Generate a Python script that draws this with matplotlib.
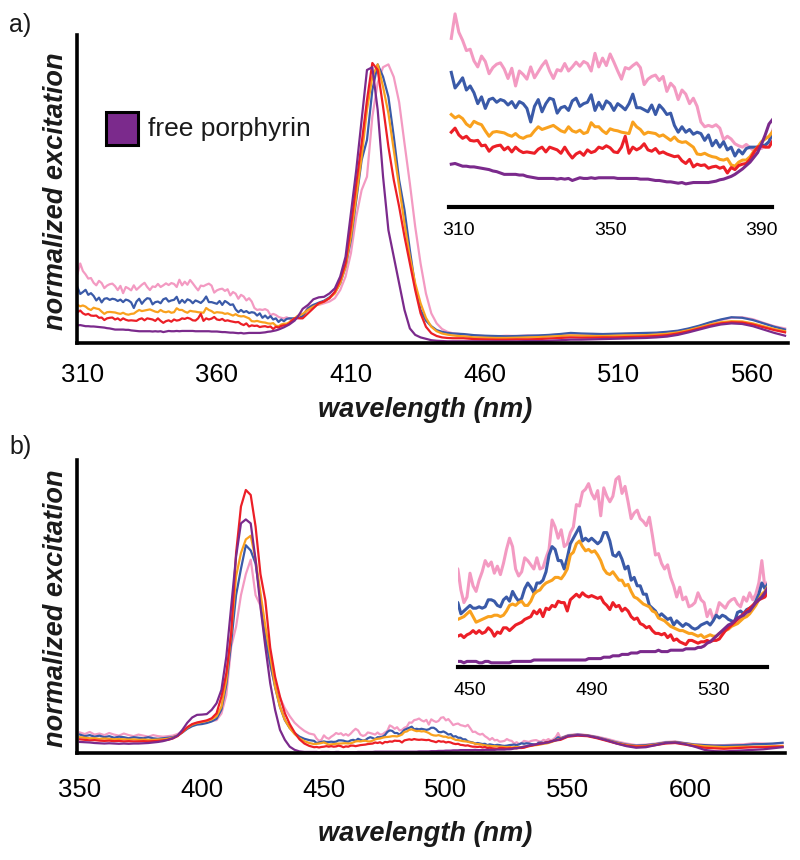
import numpy as np
import matplotlib
matplotlib.use("Agg")
import matplotlib.pyplot as plt
from matplotlib.patches import Rectangle

plt.rcParams['font.family'] = ['Liberation Sans', 'DejaVu Sans']

# ---------------- panel a data (normalized excitation, per-mille of Soret max) ----------------
a_wl = np.concatenate([np.arange(308, 393), np.arange(394, 451, 2), np.arange(452, 573, 4)])

a_pink = [248, 284, 257, 245, 230, 232, 215, 206, 222, 214,
          196, 205, 210, 212, 203, 189, 204, 178, 200, 195,
          188, 206, 190, 199, 208, 215, 200, 189, 202, 200,
          211, 200, 206, 213, 207, 214, 211, 200, 226, 206,
          219, 208, 225, 213, 200, 188, 205, 203, 208, 212,
          205, 180, 188, 192, 194, 186, 192, 170, 182, 176,
          158, 172, 166, 152, 160, 148, 125, 118, 120, 118,
          121, 116, 99, 104, 100, 93, 90, 88, 92, 87,
          83, 89, 86, 90, 96,
          130, 136, 136, 142, 148, 160, 189, 237, 320, 451,
          546, 594, 808, 930, 985, 995, 950, 860, 713, 570,
          415, 284, 177, 106, 70, 50, 40, 35, 33,
          30, 27, 25, 24, 26, 25, 27, 26, 28, 31,
          33, 30, 32, 31, 30, 32, 33, 32, 35, 38,
          42, 50, 60, 72, 82, 90, 92, 85, 72, 60, 52]

a_blue = [198, 175, 182, 190, 172, 178, 168, 152, 162, 145,
          158, 160, 154, 158, 156, 150, 155, 146, 155, 152,
          145, 125, 148, 158, 140, 152, 160, 158, 138, 146,
          148, 142, 156, 160, 148, 152, 154, 165, 142, 154,
          144, 156, 152, 142, 152, 148, 143, 152, 166, 146,
          146, 143, 140, 150, 136, 150, 144, 136, 138, 120,
          110, 118, 110, 114, 107, 110, 108, 98, 106, 90,
          98, 88, 96, 84, 88, 75, 84, 78, 86, 88,
          88, 88, 90, 91, 96,
          124, 136, 144, 151, 163, 180, 213, 272, 368, 510,
          653, 725, 903, 995, 951, 879, 737, 582, 475, 332,
          201, 118, 80, 60, 46, 40, 36, 34, 33,
          32, 28, 26, 25, 24, 25, 26, 27, 29, 32,
          36, 34, 33, 32, 33, 34, 35, 36, 37, 40,
          44, 52, 62, 74, 84, 92, 90, 82, 70, 58, 48]

a_orange = [136, 131, 134, 130, 122, 118, 126, 123, 121, 112,
            104, 110, 111, 110, 109, 106, 104, 108, 103, 101,
            104, 105, 112, 118, 114, 116, 118, 120, 116, 112,
            110, 118, 112, 110, 113, 108, 110, 124, 118, 118,
            112, 108, 115, 113, 112, 110, 109, 108, 125, 118,
            114, 107, 110, 109, 108, 104, 106, 102, 98, 103,
            97, 95, 96, 92, 88, 78, 77, 79, 76, 74,
            73, 70, 69, 71, 62, 60, 66, 69, 69, 74,
            82, 88, 96, 100, 104,
            118, 130, 139, 148, 160, 177, 213, 272, 380, 522,
            665, 832, 951, 995, 915, 820, 689, 558, 427, 308,
            213, 142, 90, 58, 42, 34, 30, 27, 25,
            24, 20, 19, 18, 18, 19, 20, 21, 23, 25,
            27, 26, 25, 25, 26, 27, 27, 28, 30, 33,
            38, 46, 56, 66, 74, 78, 77, 70, 60, 50, 42]

a_red = [110, 116, 106, 101, 104, 98, 97, 98, 90, 91,
         82, 88, 90, 91, 84, 88, 81, 88, 83, 80,
         81, 80, 79, 85, 88, 81, 88, 86, 84, 79,
         88, 79, 72, 78, 81, 76, 84, 80, 82, 88,
         86, 90, 87, 81, 80, 88, 104, 79, 88, 84,
         87, 93, 84, 82, 86, 79, 81, 78, 76, 74,
         75, 68, 64, 70, 59, 63, 61, 62, 57, 59,
         60, 57, 59, 50, 58, 55, 61, 63, 64, 70,
         80, 88, 90, 88, 88,
         106, 124, 142, 148, 160, 183, 225, 284, 415, 570,
         713, 867, 1000, 975, 844, 701, 582, 487, 380, 284,
         189, 106, 58, 35, 25, 20, 18, 17, 17,
         17, 14, 13, 12, 12, 13, 13, 14, 16, 18,
         20, 19, 19, 20, 20, 21, 22, 23, 25, 28,
         34, 42, 52, 62, 70, 74, 73, 66, 56, 46, 38]

a_purple = [63, 64, 62, 60, 60, 59, 59, 58, 57, 56,
            55, 53, 52, 50, 48, 48, 48, 48, 47, 47,
            45, 44, 43, 42, 42, 42, 42, 42, 41, 42,
            41, 42, 39, 41, 43, 42, 42, 43, 42, 43,
            43, 43, 43, 43, 42, 42, 42, 42, 42, 42,
            41, 41, 41, 40, 39, 39, 38, 37, 37, 36,
            35, 36, 34, 35, 36, 36, 36, 36, 36, 37,
            38, 40, 41, 43, 45, 48, 52, 56, 61, 66,
            73, 80, 92, 106, 122,
            136, 156, 163, 165, 177, 195, 237, 308, 463, 618,
            796, 975, 985, 832, 594, 403, 308, 213, 118, 52,
            29, 20, 15, 10, 8, 7, 6, 6, 6,
            6, 6, 6, 6, 6, 6, 7, 7, 8, 10,
            12, 12, 13, 14, 15, 16, 17, 18, 20, 23,
            29, 38, 48, 58, 66, 70, 68, 60, 48, 36, 26]

a_ticks = [310, 360, 410, 460, 510, 560]
a_inset_ticks = [310, 350, 390]

# ---------------- panel b data ----------------
b_wl = np.concatenate([np.arange(350, 446, 2), np.arange(446, 548), np.arange(550, 639, 4)])

b_pink = [78, 72, 80, 70, 74, 68, 76, 70, 66, 74,
          68, 64, 70, 66, 62, 68, 64, 62, 64, 66,
          72, 82, 96, 106, 112, 116, 118, 122, 125, 150,
          220, 404, 480, 600, 680, 735, 600, 560, 420, 330,
          260, 210, 170, 140, 115, 98, 84, 74,
          70, 55, 46, 50, 67, 58, 54, 62, 68, 76,
          72, 75, 67, 72, 66, 74, 84, 92, 86, 70,
          65, 68, 78, 76, 73, 70, 78, 70, 71, 78,
          84, 105, 100, 92, 98, 86, 88, 96, 100, 116,
          115, 125, 127, 131, 124, 120, 126, 108, 128, 122,
          118, 122, 134, 136, 124, 129, 118, 106, 110, 112,
          106, 104, 101, 107, 94, 80, 81, 74, 70, 73,
          64, 58, 50, 57, 48, 50, 43, 44, 46, 53,
          48, 46, 36, 41, 34, 38, 46, 44, 42, 46,
          48, 49, 45, 43, 50, 47, 53, 48, 52, 60,
          76, 57,
          68, 72, 68, 62, 54, 44, 36, 30, 32, 36, 42, 44,
          38, 33, 31, 30, 30, 32, 33, 37, 36, 34, 38]

b_blue = [70, 64, 68, 62, 66, 60, 64, 58, 62, 60,
          56, 60, 58, 56, 60, 56, 54, 56, 58, 60,
          66, 78, 92, 102, 108, 110, 114, 120, 130, 165,
          260, 420, 600, 700, 790, 770, 720, 590, 440, 340,
          250, 175, 125, 95, 76, 62, 54, 49,
          46, 38, 40, 42, 44, 42, 42, 43, 42, 43,
          48, 48, 47, 44, 43, 48, 50, 47, 54, 50,
          47, 49, 56, 60, 57, 53, 60, 60, 62, 68,
          80, 86, 84, 76, 76, 70, 78, 88, 92, 96,
          100, 90, 92, 90, 92, 90, 88, 90, 96, 96,
          90, 80, 79, 82, 77, 70, 72, 62, 64, 58,
          58, 52, 52, 44, 42, 40, 36, 38, 36, 34,
          35, 30, 33, 31, 29, 31, 30, 28, 27, 28,
          30, 31, 32, 30, 33, 37, 35, 37, 36, 34,
          33, 32, 39, 40, 38, 41, 42, 43, 47, 52,
          60, 56,
          66, 70, 67, 60, 50, 40, 32, 28, 30, 34, 40, 42,
          37, 32, 30, 28, 28, 29, 30, 33, 34, 36, 39]

b_orange = [60, 58, 56, 56, 54, 55, 54, 52, 53, 52,
            51, 52, 50, 51, 50, 50, 51, 52, 54, 58,
            66, 80, 96, 108, 114, 118, 122, 128, 140, 176,
            278, 455, 671, 760, 812, 826, 736, 610, 482, 370,
            252, 176, 126, 95, 72, 56, 45, 38,
            34, 35, 36, 38, 40, 36, 32, 33, 34, 35,
            36, 36, 37, 37, 36, 37, 40, 44, 45, 44,
            46, 47, 44, 44, 47, 52, 54, 55, 58, 60,
            61, 62, 64, 64, 63, 66, 70, 80, 82, 88,
            90, 86, 83, 84, 82, 83, 80, 76, 70, 67,
            66, 68, 65, 62, 62, 58, 59, 54, 50, 49,
            47, 45, 44, 43, 40, 39, 35, 34, 33, 31,
            29, 28, 27, 26, 26, 25, 24, 24, 23, 22,
            23, 21, 22, 23, 22, 22, 24, 25, 26, 27,
            29, 30, 31, 33, 35, 36, 38, 41, 44, 48,
            52, 54,
            64, 68, 66, 58, 48, 38, 30, 26, 27, 32, 38, 40,
            35, 30, 26, 24, 22, 23, 24, 24, 25, 26, 27]

b_red = [52, 50, 48, 49, 47, 46, 47, 45, 46, 44,
         45, 44, 44, 45, 44, 45, 46, 48, 50, 55,
         64, 80, 98, 110, 116, 120, 124, 132, 151, 214,
         303, 455, 759, 937, 1000, 981, 861, 680, 580, 400,
         290, 214, 151, 110, 78, 52, 36, 27,
         22, 23, 21, 23, 24, 26, 24, 26, 24, 25,
         28, 26, 22, 25, 24, 28, 28, 26, 28, 30,
         31, 32, 34, 35, 36, 40, 38, 41, 36, 42,
         41, 44, 43, 47, 46, 46, 40, 48, 50, 52,
         50, 53, 51, 50, 51, 50, 49, 50, 46, 44,
         41, 46, 43, 44, 40, 42, 40, 36, 34, 35,
         31, 30, 28, 29, 26, 24, 24, 23, 24, 21,
         23, 19, 20, 18, 17, 16, 19, 19, 18, 17,
         18, 18, 19, 18, 19, 19, 20, 23, 26, 28,
         30, 32, 34, 36, 38, 40, 42, 44, 46, 48,
         49, 50,
         62, 66, 64, 56, 46, 36, 28, 24, 25, 30, 36, 38,
         32, 26, 20, 18, 16, 18, 20, 22, 22, 23, 24]

b_purple = [42, 41, 40, 38, 37, 36, 37, 36, 35, 36,
            35, 36, 36, 37, 38, 40, 42, 45, 50, 56,
            66, 88, 115, 135, 145, 146, 148, 164, 189, 240,
            366, 556, 747, 873, 888, 873, 734, 556, 404, 265,
            164, 88, 50, 24, 12, 6, 4, 4,
            4, 4, 3, 4, 4, 4, 4, 3, 3, 4,
            4, 3, 3, 3, 3, 3, 3, 3, 4, 4,
            4, 4, 4, 4, 4, 5, 5, 5, 5, 5,
            5, 5, 5, 5, 5, 5, 5, 5, 5, 5,
            5, 5, 5, 6, 6, 6, 6, 6, 7, 7,
            7, 8, 8, 8, 9, 9, 9, 10, 10, 10,
            11, 11, 11, 11, 11, 11, 12, 11, 11, 11,
            12, 12, 12, 12, 12, 13, 13, 13, 13, 14,
            14, 15, 17, 18, 20, 22, 24, 26, 28, 30,
            31, 33, 35, 36, 37, 39, 40, 43, 46, 48,
            50, 53,
            64, 68, 66, 58, 48, 36, 26, 20, 22, 30, 38, 40,
            34, 24, 12, 7, 6, 8, 10, 12, 14, 18, 22]

b_ticks = [350, 400, 450, 500, 550, 600]
b_inset_ticks = [450, 490, 530]

legend_label = "free porphyrin"

# ---------------- styling ----------------
COLORS = {'pink': '#F39AC2', 'blue': '#3A5AA8', 'orange': '#F9A11E',
          'red': '#EC1F27', 'purple': '#7B2A8C'}
W, H = 800, 860


def fbox(x0, y0, x1, y1):
    """pixel box (top-left origin) -> figure fraction rect"""
    return [x0 / W, 1 - y1 / H, (x1 - x0) / W, (y1 - y0) / H]


def draw(ax, wl, series, lw):
    for name, vals in series:
        ax.plot(wl, vals, color=COLORS[name], lw=lw, solid_joinstyle='round')


def style_main(ax, ticks, pad):
    for s in ('top', 'right'):
        ax.spines[s].set_visible(False)
    for s in ('left', 'bottom'):
        ax.spines[s].set_linewidth(2.6)
        ax.spines[s].set_color('black')
    ax.set_yticks([])
    ax.set_xticks(ticks)
    ax.tick_params(axis='x', length=0, pad=pad, labelsize=18.5)


def style_inset(ax, ticks):
    for s in ('top', 'right', 'left'):
        ax.spines[s].set_visible(False)
    ax.spines['bottom'].set_linewidth(3.0)
    ax.spines['bottom'].set_color('black')
    ax.set_yticks([])
    ax.set_xticks(ticks)
    ax.tick_params(axis='x', length=0, pad=10.5, labelsize=14)
    ax.patch.set_alpha(0)


fig = plt.figure(figsize=(8, 8.6), dpi=100)

sa = [('pink', a_pink), ('blue', a_blue), ('orange', a_orange), ('red', a_red), ('purple', a_purple)]
sb = [('pink', b_pink), ('blue', b_blue), ('orange', b_orange), ('red', b_red), ('purple', b_purple)]

# panel a
ax_a = fig.add_axes(fbox(77, 35, 788, 343))
draw(ax_a, a_wl, sa, 1.6)
ax_a.set_xlim(307.8, 573.1)
ax_a.set_ylim(0, 1100)
style_main(ax_a, a_ticks, 14.5)

ax_ai = fig.add_axes(fbox(449, 6, 772, 207))
draw(ax_ai, a_wl, sa, 2.2)
ax_ai.set_xlim(307.4, 392.8)
ax_ai.set_ylim(0, 201 / 0.68)
style_inset(ax_ai, a_inset_ticks)

# panel b
ax_b = fig.add_axes(fbox(77, 460, 785, 753))
draw(ax_b, b_wl, sb, 1.6)
ax_b.set_xlim(348.8, 639.0)
ax_b.set_ylim(0, 1114)
style_main(ax_b, b_ticks, 18)

ax_bi = fig.add_axes(fbox(458, 466, 767, 667))
draw(ax_bi, b_wl, sb, 2.2)
ax_bi.set_xlim(446.05, 547.7)
ax_bi.set_ylim(0, 201 / 1.4)
style_inset(ax_bi, b_inset_ticks)

# texts
lab = dict(fontsize=19.5, fontweight='bold', fontstyle='italic', color='#1a1a1a',
           ha='center', va='center')
fig.text(56 / W, 1 - 191 / H, 'normalized excitation', rotation=90, **lab)
fig.text(56 / W, 1 - 608 / H, 'normalized excitation', rotation=90, **lab)
fig.text(425 / W, 1 - 410 / H, 'wavelength (nm)', **lab)
fig.text(425 / W, 1 - 834 / H, 'wavelength (nm)', **lab)
fig.text(9 / W, 1 - 25 / H, 'a)', fontsize=18, ha='left', va='center', color='#1a1a1a')
fig.text(9 / W, 1 - 447 / H, 'b)', fontsize=18, ha='left', va='center', color='#1a1a1a')

# legend
fig.add_artist(Rectangle((106 / W, 1 - 145 / H), 32 / W, 33 / H, transform=fig.transFigure,
                         facecolor=COLORS['purple'], edgecolor='black', lw=2.2))
fig.text(148 / W, 1 - 129 / H, legend_label, fontsize=19, ha='left', va='center', color='#1a1a1a')

fig.savefig('out.png', dpi=100, facecolor='white')
